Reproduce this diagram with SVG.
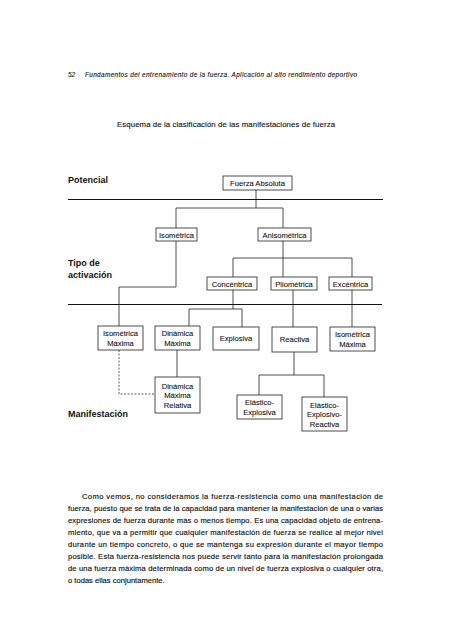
<svg xmlns="http://www.w3.org/2000/svg" width="452" height="640" viewBox="0 0 452 640">
<style>
text{font-family:"Liberation Sans",Arial,sans-serif;fill:#111}
.hdr{font-size:6.4px;font-style:italic;stroke:#111;stroke-width:0.12}
.ttl{font-size:7.8px;stroke:#111;stroke-width:0.12}
.sec{font-size:9px;font-weight:bold}
.lbl{font-size:7.6px;text-anchor:middle;stroke:#111;stroke-width:0.1}
.box{fill:#fff;stroke:#222;stroke-width:0.8}
.con{fill:none;stroke:#222;stroke-width:0.8}
.dot{fill:none;stroke:#333;stroke-width:0.8;stroke-dasharray:2,1.5}
.sep{stroke:#111;stroke-width:1.2}
.body{font-size:7.6px;stroke:#111;stroke-width:0.15}
</style>
<rect width="452" height="640" fill="#fff"/>
<text class="hdr" x="68" y="77">52</text>
<text class="hdr" x="85" y="77" textLength="272" lengthAdjust="spacing">Fundamentos del entrenamiento de la fuerza. Aplicación al alto rendimiento deportivo</text>
<text class="ttl" x="117" y="127" textLength="218" lengthAdjust="spacing">Esquema de la clasificación de las manifestaciones de fuerza</text>
<text class="sec" x="68" y="183">Potencial</text>
<text class="sec" x="68" y="266">Tipo de</text>
<text class="sec" x="68" y="278">activación</text>
<text class="sec" x="68" y="417">Manifestación</text>
<line class="sep" x1="68" y1="199.5" x2="383" y2="199.5"/>
<line class="sep" x1="68" y1="304.5" x2="382" y2="304.5"/>
<g id="connectors">
<path class="con" d="M256,190 V208"/>
<path class="con" d="M176,228 V208 H283 V228"/>
<path class="con" d="M176,241 V287 H119 V326"/>
<path class="con" d="M283,241 V277"/>
<path class="con" d="M233,277 V258 H352 V277"/>
<path class="con" d="M233,290 V309"/>
<path class="con" d="M189,326 V309 H242 V327"/>
<path class="con" d="M293,290 V327"/>
<path class="con" d="M352,290 V327"/>
<path class="con" d="M177,350 V377"/>
<path class="dot" d="M119,350 V394 H155"/>
<path class="con" d="M294,352 V375"/>
<path class="con" d="M259,395 V375 H324 V397"/>
</g>
<g id="fuerza-absoluta"><rect class="box" x="223" y="176" width="69" height="14"/><text class="lbl" x="257.5" y="186">Fuerza Absoluta</text></g>
<g id="isometrica"><rect class="box" x="156" y="228" width="41" height="13"/><text class="lbl" x="176.5" y="237.5">Isométrica</text></g>
<g id="anisometrica"><rect class="box" x="258" y="228" width="53" height="13"/><text class="lbl" x="284.5" y="237.5">Anisométrica</text></g>
<g id="concentrica"><rect class="box" x="207" y="277" width="50" height="13"/><text class="lbl" x="232" y="286.5">Concéntrica</text></g>
<g id="pliometrica"><rect class="box" x="271" y="277" width="46" height="13"/><text class="lbl" x="294" y="286.5">Pliométrica</text></g>
<g id="excentrica"><rect class="box" x="329" y="277" width="43" height="13"/><text class="lbl" x="350.5" y="286.5">Excéntrica</text></g>
<g id="isometrica-maxima-1"><rect class="box" x="98" y="326" width="45" height="24"/><text class="lbl" x="120.5" y="336">Isométrica</text><text class="lbl" x="120.5" y="345.5">Máxima</text></g>
<g id="dinamica-maxima"><rect class="box" x="155" y="326" width="45" height="24"/><text class="lbl" x="177.5" y="336">Dinámica</text><text class="lbl" x="177.5" y="345.5">Máxima</text></g>
<g id="explosiva"><rect class="box" x="213" y="327" width="46" height="23"/><text class="lbl" x="236" y="341">Explosiva</text></g>
<g id="reactiva"><rect class="box" x="272" y="327" width="45" height="25"/><text class="lbl" x="294.5" y="342">Reactiva</text></g>
<g id="isometrica-maxima-2"><rect class="box" x="330" y="327" width="45" height="24"/><text class="lbl" x="352.5" y="337">Isométrica</text><text class="lbl" x="352.5" y="346.5">Máxima</text></g>
<g id="dinamica-maxima-relativa"><rect class="box" x="155" y="377" width="45" height="36"/><text class="lbl" x="177.5" y="388.5">Dinámica</text><text class="lbl" x="177.5" y="398">Máxima</text><text class="lbl" x="177.5" y="407.5">Relativa</text></g>
<g id="elastico-explosiva"><rect class="box" x="237" y="395" width="45" height="24"/><text class="lbl" x="259.5" y="405">Elástico-</text><text class="lbl" x="259.5" y="414.5">Explosiva</text></g>
<g id="elastico-explosivo-reactiva"><rect class="box" x="302" y="397" width="45" height="34"/><text class="lbl" x="324.5" y="407.5">Elástico-</text><text class="lbl" x="324.5" y="417">Explosivo-</text><text class="lbl" x="324.5" y="426.5">Reactiva</text></g>
<g id="paragraph">
<text class="body" x="82" y="498.5" textLength="301" lengthAdjust="spacing">Como vemos, no consideramos la fuerza-resistencia como una manifestación de</text>
<text class="body" x="68" y="510.5" textLength="315" lengthAdjust="spacing">fuerza, puesto que se trata de la capacidad para mantener la manifestación de una o varias</text>
<text class="body" x="68" y="522.5" textLength="315" lengthAdjust="spacing">expresiones de fuerza durante más o menos tiempo. Es una capacidad objeto de entrena-</text>
<text class="body" x="68" y="534.5" textLength="315" lengthAdjust="spacing">miento, que va a permitir que cualquier manifestación de fuerza se realice al mejor nivel</text>
<text class="body" x="68" y="546.5" textLength="315" lengthAdjust="spacing">durante un tiempo concreto, o que se mantenga su expresión durante el mayor tiempo</text>
<text class="body" x="68" y="558.5" textLength="315" lengthAdjust="spacing">posible. Esta fuerza-resistencia nos puede servir tanto para la manifestación prolongada</text>
<text class="body" x="68" y="570.5" textLength="315" lengthAdjust="spacing">de una fuerza máxima determinada como de un nivel de fuerza explosiva o cualquier otra,</text>
<text class="body" x="68" y="582.5">o todas ellas conjuntamente.</text>
</g>
</svg>
